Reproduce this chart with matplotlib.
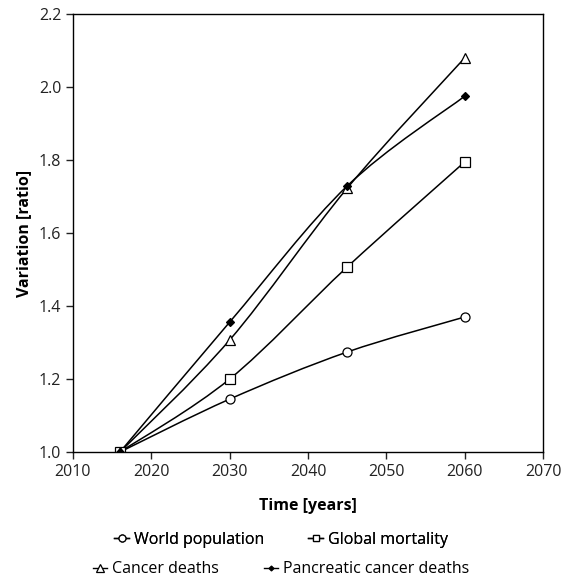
import numpy as np
import matplotlib.pyplot as plt
from matplotlib.path import Path
from matplotlib.patches import PathPatch
from matplotlib.lines import Line2D

plt.rcParams['font.family'] = ['Open Sans', 'DejaVu Sans']

years = [2016, 2030, 2045, 2060]
world_population = [1.0, 1.145, 1.274, 1.37]
global_mortality = [1.0, 1.20, 1.507, 1.795]
cancer_deaths = [1.0, 1.307, 1.723, 2.08]
pancreatic_deaths = [1.0, 1.356, 1.729, 1.975]

series = [
    ("World population", world_population, 'o', 'white', 6.5),
    ("Global mortality", global_mortality, 's', 'white', 6.5),
    ("Cancer deaths", cancer_deaths, '^', 'white', 7),
    ("Pancreatic cancer deaths", pancreatic_deaths, 'D', 'black', 4),
]


def smooth_path(x, y, t=0.5):
    # Catmull-Rom style bezier through the points (like Excel smoothed lines)
    x = np.asarray(x, float)
    y = np.asarray(y, float)
    n = len(x)
    verts = [(x[0], y[0])]
    codes = [Path.MOVETO]
    for i in range(n - 1):
        x0, y0 = (x[i - 1], y[i - 1]) if i > 0 else (x[i], y[i])
        x3, y3 = (x[i + 2], y[i + 2]) if i + 2 < n else (x[i + 1], y[i + 1])
        c1 = (x[i] + (x[i + 1] - x0) * t / 3, y[i] + (y[i + 1] - y0) * t / 3)
        c2 = (x[i + 1] - (x3 - x[i]) * t / 3, y[i + 1] - (y3 - y[i]) * t / 3)
        verts += [c1, c2, (x[i + 1], y[i + 1])]
        codes += [Path.CURVE4] * 3
    return Path(verts, codes)


fig = plt.figure(figsize=(5.7, 5.81), dpi=100)
ax = fig.add_axes([0.128, 0.222, 0.825, 0.754])

handles = []
for name, vals, mk, fc, ms in series:
    ax.add_patch(PathPatch(smooth_path(years, vals), fill=False, lw=1.1,
                           edgecolor='black', zorder=2))
    ax.plot(years, vals, linestyle='none', marker=mk, markersize=ms,
            markerfacecolor=fc, markeredgecolor='black', markeredgewidth=0.9,
            zorder=3)
    handles.append(Line2D([], [], color='black', lw=1.0, marker=mk,
                          markersize=ms - 1.5, markerfacecolor=fc,
                          markeredgecolor='black', markeredgewidth=0.9,
                          label=name))

ax.set_xlim(2010, 2070)
ax.set_ylim(1.0, 2.2)
ax.set_xticks(range(2010, 2071, 10))
ax.set_yticks(np.arange(1.0, 2.21, 0.2))
ax.yaxis.set_major_formatter(plt.FormatStrFormatter('%.1f'))
ax.tick_params(direction='out', length=5, width=1, labelsize=11.5,
               colors='#222222', labelcolor='#222222')
for s in ax.spines.values():
    s.set_linewidth(1.0)

ax.set_xlabel("Time [years]", fontsize=11.5, fontweight='bold', labelpad=13)
ax.set_ylabel("Variation [ratio]", fontsize=11.5, fontweight='bold', labelpad=5)

# two legend rows, each centred on its own
leg_kw = dict(ncol=2, loc='center', frameon=False, fontsize=11.5,
              handlelength=0.9, handletextpad=0.3, columnspacing=2.8,
              borderpad=0)
leg1 = fig.legend(handles=handles[:2], bbox_to_anchor=(0.493, 0.071), **leg_kw)
fig.add_artist(leg1)
fig.legend(handles=handles[2:], bbox_to_anchor=(0.493, 0.020), **leg_kw)

fig.savefig("out.png", dpi=100)
